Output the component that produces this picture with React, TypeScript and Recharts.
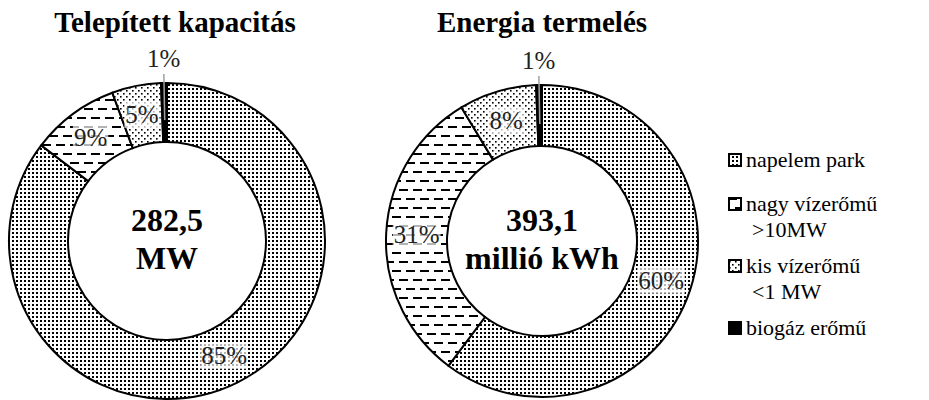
import { PieChart, Pie, Cell } from 'recharts'

// adatok
const sources = ['napelem park', 'nagy vízerőmű >10MW', 'kis vízerőmű <1 MW', 'biogáz erőmű']
const legendLines = [['napelem park'], ['nagy vízerőmű', '>10MW'], ['kis vízerőmű', '<1 MW'], ['biogáz erőmű']]
const capacityShare = [85, 9, 5, 0.6]
const energyShare = [60, 31, 8, 0.6]
const titles = ['Telepített kapacitás', 'Energia termelés']
const totals = [['282,5', 'MW'], ['393,1', 'millió kWh']]

const fills = ['url(#pNapelem)', 'url(#pNagy)', 'url(#pKis)', '#000']
const FONT = "'Liberation Serif', 'Times New Roman', serif"
const RAD = Math.PI / 180

const capacityData = sources.map((name, i) => ({ name, value: capacityShare[i] }))
const energyData = sources.map((name, i) => ({ name, value: energyShare[i] }))

const renderLabel = (p: any) => {
  const { cx, cy, midAngle, innerRadius, outerRadius, value, index } = p
  const text = `${Math.round(value)}%`
  const small = value < 2
  const r = small ? outerRadius + 24 : (innerRadius + outerRadius) / 2
  const x = cx + r * Math.cos(-midAngle * RAD)
  const y = cy + r * Math.sin(-midAngle * RAD)
  const fs = 25
  const w = ((text.length - 1) * 0.5 + 0.833) * fs + 2
  const lx1 = cx + (innerRadius + 22) * Math.cos(-midAngle * RAD)
  const ly1 = cy + (innerRadius + 22) * Math.sin(-midAngle * RAD)
  const lx2 = cx + (outerRadius + 9) * Math.cos(-midAngle * RAD)
  const ly2 = cy + (outerRadius + 9) * Math.sin(-midAngle * RAD)
  return (
    <g key={`lbl-${index}`}>
      {small && <line x1={lx1} y1={ly1} x2={lx2} y2={ly2} stroke="#a0a0a0" strokeWidth={1.5} />}
      <rect x={x - w / 2} y={y - 13} width={w} height={26} fill="#fff" fillOpacity={0.7} />
      <text
        x={x}
        y={y + 8}
        textAnchor="middle"
        fontFamily={FONT}
        fontSize={fs}
        fill="#222"
      >
        {text}
      </text>
    </g>
  )
}

const Patterns = () => (
  <svg width={0} height={0} style={{ position: 'absolute' }}>
    <defs>
      <pattern id="pNapelem" width={4} height={4} patternUnits="userSpaceOnUse">
        <rect width={4} height={4} fill="#fff" />
        <rect x={0} y={0} width={2} height={2} fill="#000" />
      </pattern>
      <pattern id="pNagy" width={14} height={18} patternUnits="userSpaceOnUse">
        <rect width={14} height={18} fill="#fff" />
        <rect x={0} y={0} width={9} height={2} fill="#000" />
        <rect x={7} y={9} width={7} height={2} fill="#000" />
        <rect x={0} y={9} width={2} height={2} fill="#000" />
      </pattern>
      <pattern id="pKis" width={6} height={6} patternUnits="userSpaceOnUse">
        <rect width={6} height={6} fill="#fff" />
        <rect x={0} y={0} width={1.6} height={1.6} fill="#000" />
        <rect x={3} y={3} width={1.6} height={1.6} fill="#000" />
      </pattern>
    </defs>
  </svg>
)

const abs = (x: number, y: number, extra: any = {}) => ({
  position: 'absolute' as const,
  left: x,
  top: y,
  fontFamily: FONT,
  whiteSpace: 'nowrap' as const,
  color: '#000',
  ...extra
})

const Overlay = () => {
  const titleCenters = [175, 542]
  const centers = [167, 542]
  let y = 160
  const legendRows: { lines: string[]; y: number }[] = legendLines.map((lines) => {
    const row = { lines, y }
    y += lines.length > 1 ? 62 : 44
    return row
  })
  return (
    <>
      {titles.map((t, i) => (
        <div
          key={t}
          style={abs(titleCenters[i] - 200, 4, { width: 400, textAlign: 'center', fontWeight: 'bold', fontSize: 29, lineHeight: '36px' })}
        >
          {t}
        </div>
      ))}
      {totals.map((lines, i) =>
        lines.map((l, j) => (
          <div
            key={l}
            style={abs(centers[i] - 150, 200 + j * 38, { width: 300, textAlign: 'center', fontWeight: 'bold', fontSize: 32, lineHeight: '40px' })}
          >
            {l}
          </div>
        ))
      )}
      <svg width={929} height={400} style={{ position: 'absolute', left: 0, top: 0 }}>
        {legendRows.map((row, i) => (
          <rect
            key={i}
            x={729}
            y={row.y - 6}
            width={12}
            height={12}
            fill={fills[i]}
            stroke="#000"
            strokeWidth={2}
          />
        ))}
      </svg>
      {legendRows.map((row) =>
        row.lines.map((l, j) => (
          <div key={l} style={abs(j === 0 ? 746 : 752, row.y + j * 26 - 14, { fontSize: 22, lineHeight: '28px' })}>
            {l}
          </div>
        ))
      )}
    </>
  )
}

export default function App() {
  return (
    <div
      style={{
        position: 'absolute',
        left: 0,
        top: 0,
        width: 929,
        height: 400,
        background: '#fff'
      }}
    >
      <Patterns />
      <PieChart width={929} height={400} margin={{ top: 0, right: 0, bottom: 0, left: 0 }}>
        <Pie
          data={capacityData}
          dataKey="value"
          cx={167}
          cy={241}
          innerRadius={99}
          outerRadius={158}
          startAngle={90}
          endAngle={-270}
          stroke="#000"
          strokeWidth={2}
          label={renderLabel}
          labelLine={false}
          isAnimationActive={false}
        >
          {capacityData.map((d, i) => (
            <Cell key={d.name} fill={fills[i]} />
          ))}
        </Pie>
        <Pie
          data={energyData}
          dataKey="value"
          cx={542}
          cy={241}
          innerRadius={95}
          outerRadius={156}
          startAngle={90}
          endAngle={-270}
          stroke="#000"
          strokeWidth={2}
          label={renderLabel}
          labelLine={false}
          isAnimationActive={false}
        >
          {energyData.map((d, i) => (
            <Cell key={d.name} fill={fills[i]} />
          ))}
        </Pie>
      </PieChart>
      <Overlay />
    </div>
  )
}
